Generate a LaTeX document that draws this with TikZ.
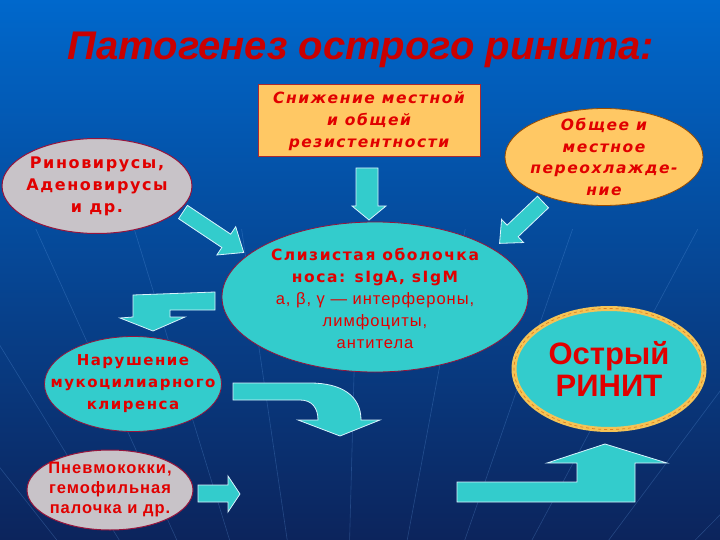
\documentclass[tikz,border=0pt]{standalone}
\usepackage{fontspec}
\setmainfont{DejaVu Sans}
\newfontfamily\titlefont{Liberation Sans}
\newfontfamily\boxfont[LetterSpace=10]{DejaVu Sans}
\newfontfamily\narrowfont[LetterSpace=6]{Liberation Sans}
\newfontfamily\bigfont{Liberation Sans}
\usetikzlibrary{shapes.geometric}

\definecolor{bgtop}{RGB}{0,104,204}
\definecolor{bgmid}{RGB}{8,66,160}
\definecolor{bgbot}{RGB}{12,36,92}
\definecolor{txtred}{RGB}{225,0,0}
\definecolor{boxorange}{RGB}{255,200,100}
\definecolor{boxgray}{RGB}{200,195,200}
\definecolor{boxcyan}{RGB}{51,204,204}
\definecolor{rimred}{RGB}{150,20,60}
\definecolor{streak}{RGB}{110,170,240}
\definecolor{rimgold}{RGB}{245,195,85}

\tikzset{
	grayell/.style={ellipse, draw=rimred, line width=1pt, fill=boxgray, inner sep=0pt},
	cyanell/.style={ellipse, draw=rimred, line width=0.8pt, fill=boxcyan, inner sep=0pt},
	orangeell/.style={ellipse, draw=orange!60!black, line width=0.8pt, fill=boxorange, inner sep=0pt},
	txt/.style={align=center, text=txtred, font=\boxfont\bfseries\fontsize{16}{22}\selectfont},
	blockarrow/.style={fill=boxcyan, draw=cyan!15, line width=0.8pt, line join=miter}
}

\begin{document}
\begin{tikzpicture}[x=1pt, y=-1pt]
	\useasboundingbox (0,0) rectangle (720,540);
	\shade[top color=bgtop, middle color=bgmid, bottom color=bgbot] (0,0) rectangle (720,540);
	% faint rays at the bottom
	\begin{scope}
		\clip (0,230) rectangle (720,540);
		\foreach \x in {-400,-250,-120,0,110,230,360,480,600,740,900,1080}
			\draw[streak, opacity=.25, line width=.6pt] (340,900) -- (\x,150);
	\end{scope}

	% title
	\node[text=txtred!90!black, font=\titlefont\bfseries\itshape\fontsize{40}{44}\selectfont] (title) at (361,50) {Патогенез острого ринита:};

	% causes
	\node[draw=rimred!80!orange, line width=1pt, fill=boxorange, minimum width=222pt, minimum height=72pt, inner sep=0pt] (resist) at (369,121) {};
	\node[txt, font=\boxfont\bfseries\itshape\fontsize{15.5}{22}\selectfont] at (resist) {Снижение местной\\и общей\\резистентности};

	\node[grayell, minimum width=190pt, minimum height=95pt] (virus) at (97,186) {};
	\node[txt] at (virus) {Риновирусы,\\Аденовирусы\\и др.};

	\node[orangeell, minimum width=198pt, minimum height=97pt] (cold) at (604,157) {};
	\node[txt, font=\boxfont\bfseries\itshape\fontsize{15.5}{21.5}\selectfont] at (cold) {Общее и\\местное\\переохлажде-\\ние};

	% mucosa
	\node[cyanell, minimum width=306pt, minimum height=150pt] (mucosa) at (375,297) {};
	\node[txt, yshift=-1pt, font=\boxfont\bfseries\fontsize{15.5}{22}\selectfont] at (mucosa) {Слизистая оболочка\\носа: sIgA, sIgM\\{\narrowfont\mdseries\fontsize{16.5}{21}\selectfont a, β, γ — интерфероны,}\\{\narrowfont\mdseries\fontsize{16.5}{21}\selectfont лимфоциты,}\\{\narrowfont\mdseries\fontsize{16.5}{21}\selectfont антитела}};

	\node[cyanell, minimum width=177pt, minimum height=95pt] (clear) at (133,384) {};
	\node[txt, font=\boxfont\bfseries\fontsize{15}{22}\selectfont] at (clear) {Нарушение\\мукоцилиарного\\клиренса};

	\node[grayell, minimum width=166pt, minimum height=80pt] (pneumo) at (110,490) {};
	\node[txt, font=\narrowfont\bfseries\fontsize{16.5}{20}\selectfont] at (pneumo) {Пневмококки,\\гемофильная\\палочка и др.};

	% result
	\node[ellipse, fill=boxcyan, draw=rimgold, line width=5pt, minimum width=190pt, minimum height=121pt] (rhinitis) at (609,369) {};
	\draw[orange!50!brown, line width=.7pt, dashed] (rhinitis.center) ellipse [x radius=95pt, y radius=60.5pt];
	\node[text=txtred, align=center, font=\bigfont\bfseries\fontsize{31}{32}\selectfont] at (rhinitis) {Острый\\РИНИТ};

	% arrows
	\draw[blockarrow] (356,168) -- (378,168) -- (378,206) -- (386,206) -- (369,220) -- (352,206) -- (356,206) -- cycle;
	\draw[blockarrow, shift={(183,212)}, rotate=-33.7] (0,-8) -- (52,-8) -- (52,-17) -- (73,0) -- (52,17) -- (52,8) -- (0,8) -- cycle;
	\draw[blockarrow, shift={(543,202)}, rotate=-136.4] (0,-8) -- (42,-8) -- (42,-16) -- (60,0) -- (42,16) -- (42,8) -- (0,8) -- cycle;
	\draw[blockarrow] (215,292) -- (215,310) -- (170,310) -- (170,317) -- (185,317) -- (153,331) -- (120,318) -- (133,317) -- (133,295) -- cycle;
	\draw[blockarrow] (233,383) -- (310,383) .. controls (342,383) and (361,396) .. (361,420) -- (380,420) -- (340,436) -- (298,420) -- (318,420) .. controls (318,408) and (312,400) .. (300,400) -- (233,400) -- cycle;
	\draw[blockarrow] (198,485) -- (228,485) -- (228,476) -- (240,494) -- (228,512) -- (228,502) -- (198,502) -- cycle;
	\draw[blockarrow] (457,482) -- (577,482) -- (577,463) -- (547,463) -- (605,444) -- (667,463) -- (635,463) -- (635,502) -- (457,502) -- cycle;
\end{tikzpicture}
\end{document}
